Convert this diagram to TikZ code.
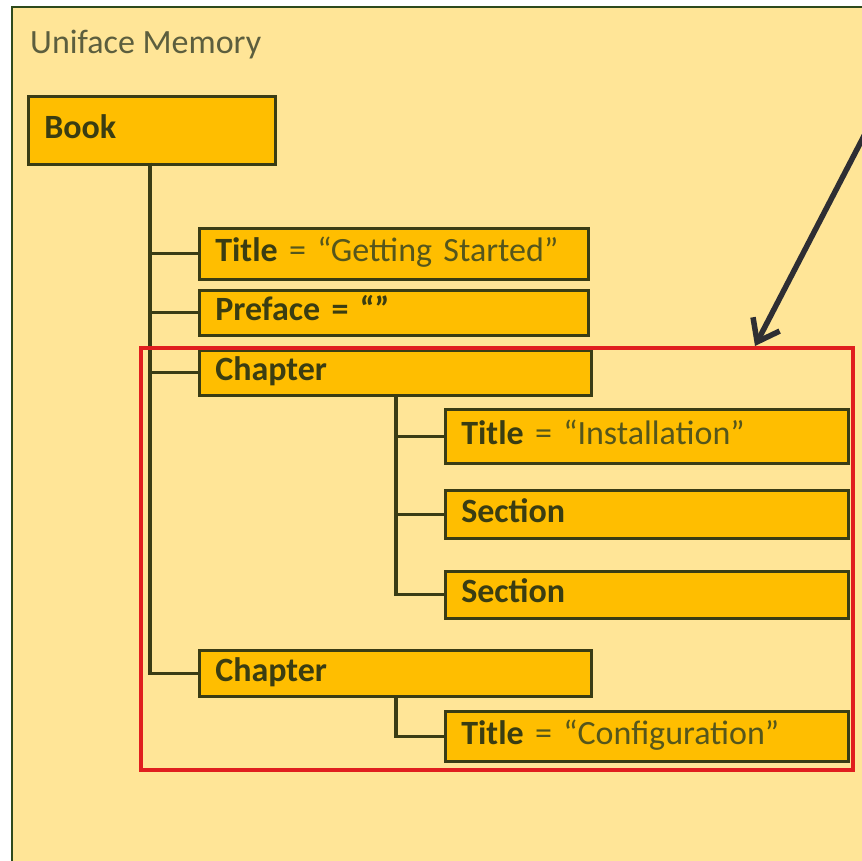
\documentclass[tikz,border=0pt]{standalone}
\usepackage{fontspec}
\setmainfont{Carlito}
\usetikzlibrary{arrows.meta}
\definecolor{paper}{HTML}{FFE597}
\definecolor{boxfill}{HTML}{FFBE00}
\definecolor{boxline}{HTML}{3A3C14}
\definecolor{ink}{HTML}{3A3D12}
\definecolor{softink}{HTML}{55561C}
\definecolor{captionink}{HTML}{5C5E3E}
\definecolor{frameline}{HTML}{2E4A1C}
\definecolor{redframe}{HTML}{E01E1E}
\definecolor{arrowink}{HTML}{2E2E33}
\tikzset{
  itembox/.style={draw=boxline, line width=2.6pt, fill=boxfill, anchor=north west,
    inner xsep=16pt, inner ysep=0pt, text=softink, font=\fontsize{34}{36}\selectfont,
    text height=24pt, text depth=8pt},
  link/.style={draw=boxline, line width=3.2pt}
}
\newcommand{\itemnode}[6]{% name, x, y, width, height, text
  \node[itembox, minimum width=#4pt, minimum height=#5pt, text width=#4pt-32pt, align=left]
    (#1) at (#2,#3) {#6};}
\newcommand{\key}[1]{\textcolor{ink}{\textbf{#1}}}
\begin{document}
\begin{tikzpicture}[x=1pt,y=-1pt]
  \useasboundingbox (0,0) rectangle (862,861);
  % background sheet with its frame
  \fill[paper] (12,7) rectangle (862,861);
  \draw[frameline, line width=2.5pt] (12,861) -- (12,7) -- (862,7);
  \node[anchor=base west, text=captionink, font=\fontsize{34}{36}\selectfont, inner sep=0pt]
    (cap) at (30,54) {Uniface Memory};

  % tree of items
  \itemnode{book}{27}{95}{247}{68}{\key{Book}}
  \itemnode{title}{198}{227}{389}{51}{\key{Title} = “Getting Started”}
  \itemnode{preface}{198}{289}{389}{45}{\key{Preface = “”}}
  \itemnode{chapA}{198}{349}{392}{45}{\key{Chapter}}
  \itemnode{titleA}{444}{408}{403}{54}{\key{Title} = “Installation”}
  \itemnode{secA}{444}{489}{403}{48}{\key{Section}}
  \itemnode{secB}{444}{570}{403}{47}{\key{Section}}
  \itemnode{chapB}{198}{649}{392}{46}{\key{Chapter}}
  \itemnode{titleB}{444}{710}{403}{50}{\key{Title} = “Configuration”}

  % connectors
  \coordinate (bookfoot) at (150,163);
  \draw[link] (bookfoot) |- (title.west);
  \draw[link] (bookfoot) |- (preface.west);
  \draw[link] (bookfoot) |- (chapA.west);
  \draw[link] (bookfoot) |- (chapB.west);
  \coordinate (chapAfoot) at (396,394);
  \draw[link] (chapAfoot) |- (titleA.west);
  \draw[link] (chapAfoot) |- (secA.west);
  \draw[link] (chapAfoot) |- (secB.west);
  \coordinate (chapBfoot) at (396,695);
  \draw[link] (chapBfoot) |- (titleB.west);

  % highlight frame and pointer
  \node[draw=redframe, line width=3.5pt, anchor=north west, minimum width=712pt,
    minimum height=422pt, inner sep=0pt] (focus) at (139,346) {};
  \coordinate (ptrstart) at (866,132);
  \draw[arrowink, line width=5.5pt, -{Straight Barb[length=20pt, width=30pt, line width=5.5pt]}]
    (ptrstart) -- (focus.north west -| 755,0);
\end{tikzpicture}
\end{document}
